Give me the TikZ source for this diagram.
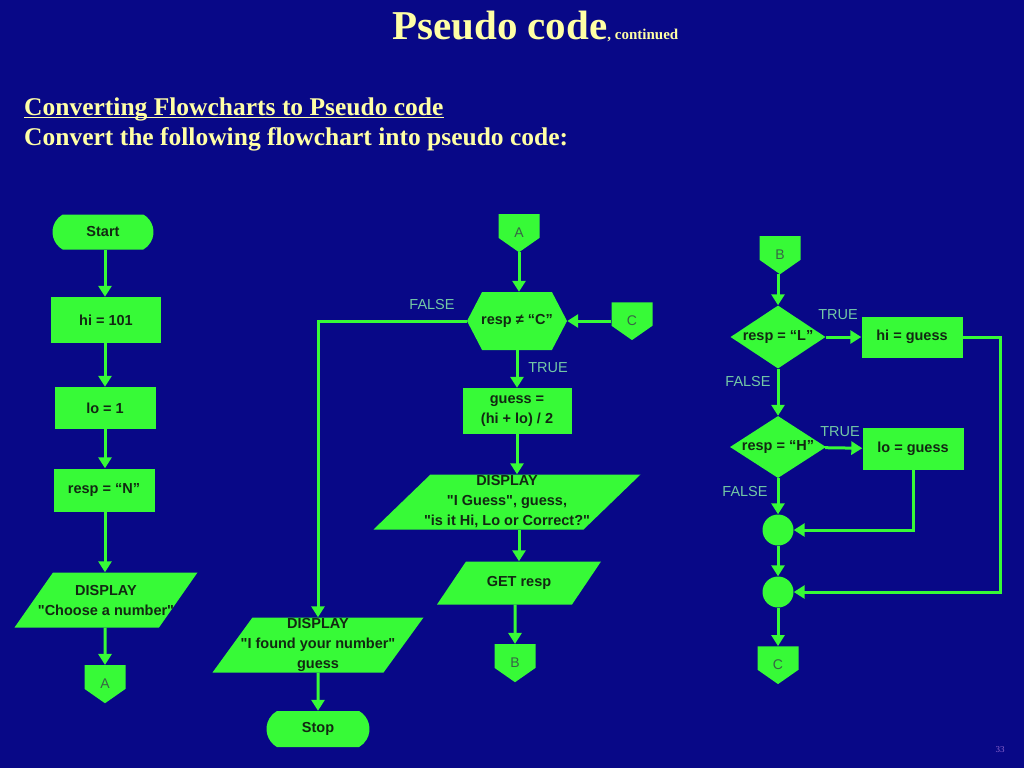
\documentclass[tikz,border=0pt]{standalone}
\usepackage{fontspec}
\setmainfont{Liberation Serif}
\setsansfont{Liberation Sans}[Ligatures=TeXOff]
\usetikzlibrary{arrows.meta, shapes.geometric, shapes.symbols, shapes.misc}
\definecolor{navy}{RGB}{8,8,135}
\definecolor{lime}{RGB}{55,250,55}
\definecolor{ink}{RGB}{18,40,18}
\definecolor{tfgrey}{RGB}{115,200,165}
\definecolor{cream}{RGB}{255,255,165}
\definecolor{pagecol}{RGB}{140,100,205}
\definecolor{lettercol}{RGB}{55,100,70}
\tikzset{
  box/.style={fill=lime, draw=none, inner sep=0pt, text=ink, align=center,
    font=\sffamily\bfseries\fontsize{14.5}{20}\selectfont},
  say/.style={label={[text=ink, align=center, font=\sffamily\bfseries\fontsize{14.5}{20}\selectfont]center:{#1}}},
  term/.style={box, rounded rectangle, rounded rectangle arc length=120},
  proc/.style={box, rectangle},
  io/.style={box, trapezium, trapezium left angle=#1, trapezium right angle={180-#1}, trapezium stretches body},
  hexa/.style={box, signal, signal to=east and west, signal pointer angle=125},
  decide/.style={box, diamond},
  junc/.style={box, circle, minimum size=31pt},
  offpage/.style={box, signal, signal to=south, signal pointer angle=110,
    minimum width=41pt, minimum height=27pt, text height=22pt, text depth=0pt,
    text=lettercol, font=\sffamily\fontsize{14}{16}\selectfont},
  flow/.style={draw=lime, line width=3pt, -{Triangle[length=11pt, width=13pt]}},
  tf/.style={text=tfgrey, inner sep=0pt, font=\sffamily\fontsize{14.5}{16}\selectfont},
  head/.style={text=cream, inner sep=0pt, anchor=base west, font=\bfseries\fontsize{25.5}{30}\selectfont}
}

\begin{document}
\begin{tikzpicture}[x=1pt, y=-1pt]
  \useasboundingbox (0,0) rectangle (1024,768);
  \fill[navy] (0,0) rectangle (1024,768);
%% heading
  \node[head] (ttl) at (392,40) {{\fontsize{41}{45}\selectfont Pseudo code}{\fontsize{15}{18}\selectfont, continued}};
  \node[head] (sub1) at (24,115) {Converting Flowcharts to Pseudo code};
  \draw[cream, line width=1.4pt] ([yshift=-2.5pt]sub1.base west) -- ([yshift=-2.5pt]sub1.base east);
  \node[head] (sub2) at (24,145) {Convert the following flowchart into pseudo code:};
  \node[text=pagecol, font=\fontsize{9}{10}\selectfont] (pg) at (1000,750) {33};
%% first column
  \node[term, minimum width=101pt, minimum height=35pt] (start) at (103,232) {Start};
  \node[proc, minimum width=110pt, minimum height=46pt] (hi) at (106,320) {hi = 101};
  \node[proc, minimum width=101pt, minimum height=42pt] (lo) at (105,408) {lo = 1};
  \node[proc, minimum width=101pt, minimum height=43pt] (respN) at (104,490) {resp = “N”};
  \node[io=55, minimum width=183pt, inner ysep=27.5pt, say={DISPLAY\\"Choose a number"}] (dispChoose) at (106,600) {};
  \node[offpage] (offA) at (105,677) {A};
  \draw[flow] (start.south -| lo) -- (lo |- hi.north);
  \draw[flow] (hi.south -| lo) -- (lo);
  \draw[flow] (lo) -- (lo |- respN.north);
  \draw[flow] (respN.south -| lo) -- (lo |- dispChoose.north);
  \draw[flow] (offA |- dispChoose.south) -- (offA);
%% second column
  \node[offpage] (offA2) at (519,226) {A};
  \node[hexa, minimum width=100pt, minimum height=58pt, say={resp ≠ “C”}] (hexC) at (517,321) {};
  \node[offpage] (offC) at (632,314) {C};
  \node[proc, minimum width=109pt, minimum height=46pt] (guess) at (517,411) {guess =\\(hi + lo) / 2};
  \node[io=44, minimum width=267pt, inner ysep=27.5pt, say={DISPLAY\\"I Guess", guess,\\"is it Hi, Lo or Correct?"}] (dispGuess) at (507,502) {};
  \node[io=56, minimum width=164pt, inner ysep=21.5pt, say={GET resp}] (getResp) at (519,583) {};
  \node[offpage] (offB) at (515,656) {B};
  \node[io=54, minimum width=211pt, inner ysep=27.5pt, say={DISPLAY\\"I found your number"\\guess}] (dispFound) at (318,645) {};
  \node[term, minimum width=103pt, minimum height=36pt] (stop) at (318,729) {Stop};
  \node[tf] (fC) at (432,305) {FALSE};
  \node[tf] (tC) at (548,368) {TRUE};
  \draw[flow] (offA2 |- offA2.south) -- (offA2 |- hexC.north);
  \draw[flow] (offC.west |- hexC) -- (hexC.east);
  \draw[flow] (hexC) -- (guess);
  \draw[flow] (guess) -- (guess |- dispGuess.north);
  \draw[flow] (getResp |- dispGuess.south) -- (getResp);
  \draw[flow] (offB |- getResp.south) -- (offB);
  \draw[flow] (hexC.west) -| (dispFound.north);
  \draw[flow] (dispFound) -- (stop);
%% third column
  \node[offpage] (offB2) at (780,248) {B};
  \node[decide, minimum width=95pt, minimum height=63pt, say={resp = “L”}] (dL) at (778,337) {};
  \node[proc, minimum width=101pt, minimum height=41pt] (hiG) at (912,337) {hi = guess};
  \node[decide, minimum width=96pt, minimum height=62pt, say={resp = “H”}] (dH) at (778,447) {};
  \node[proc, minimum width=101pt, minimum height=42pt] (loG) at (913,449) {lo = guess};
  \node[junc] (j1) at (778,530) {};
  \node[junc] (j2) at (778,592) {};
  \node[offpage] (offC2) at (778,658) {C};
  \coordinate (rt) at (1000,337);
  \node[tf] (tL) at (838,315) {TRUE};
  \node[tf] (fL) at (748,382) {FALSE};
  \node[tf] (tH) at (840,432) {TRUE};
  \node[tf] (fH) at (745,492) {FALSE};
  \draw[flow] (offB2.south -| dL) -- (dL);
  \draw[flow] (dL) -- (hiG);
  \draw[flow] (dL) -- (dH);
  \draw[flow] (dH) -- (loG);
  \draw[flow] (dH) -- (j1);
  \draw[flow] (j1) -- (j2);
  \draw[flow] (j2) -- (offC2);
  \draw[flow] (loG) |- (j1);
  \draw[flow] (hiG) -- (rt) |- (j2);
\end{tikzpicture}
\end{document}
